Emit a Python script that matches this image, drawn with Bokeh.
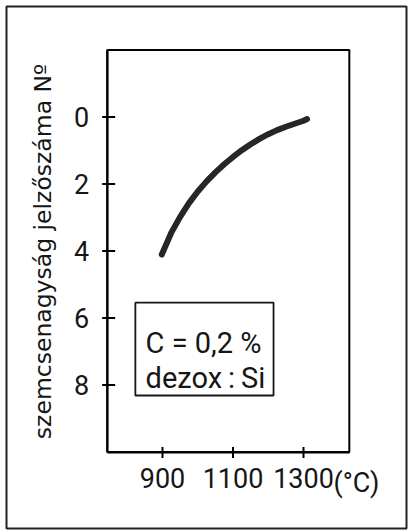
from bokeh.plotting import figure
from bokeh.models import Range1d, FixedTicker, Label, BoxAnnotation
from bokeh.embed import file_html
from bokeh.resources import INLINE

# grain size index versus heating temperature
temp_c = [898, 925, 950, 975, 1000, 1025, 1050, 1075, 1100, 1125, 1150, 1175, 1200, 1225, 1250, 1275, 1300, 1310]
grain_no = [4.10, 3.45, 2.98, 2.57, 2.22, 1.92, 1.65, 1.41, 1.19, 0.99, 0.81, 0.65, 0.51, 0.39, 0.29, 0.20, 0.11, 0.06]

x_ticks = [900, 1100, 1300]
y_ticks = [0, 2, 4, 6, 8]
y_title = "szemcsenagyság jelzőszáma Nº"
unit_text = "(°C)"
note_lines = ["C = 0,2 %", "dezox\u2009:\u2009Si"]

# axis box limits
X_MIN, X_MAX = 743, 1430
Y_MIN, Y_MAX = -2, 10

# visible ranges of the whole sheet
SHEET_X = (457.4, 1592.2)
SHEET_Y = (12.28, -3.30)
FRAME_W, FRAME_H = 400, 522
PX_X = FRAME_W / (SHEET_X[1] - SHEET_X[0])   # pixels per degree
PX_Y = FRAME_H / (SHEET_Y[0] - SHEET_Y[1])   # pixels per index unit

INK = "#161616"
FONT = "Roboto"

# the frame spans the whole sheet; the axes sit at fixed positions inside it
p = figure(width=409, height=531, output_backend="svg", toolbar_location=None,
           x_range=Range1d(*SHEET_X), y_range=Range1d(*SHEET_Y),
           min_border_left=6, min_border_right=3, min_border_top=6, min_border_bottom=3)
p.grid.visible = False
p.outline_line_color = "#222222"
p.outline_line_width = 2
p.background_fill_color = "white"
p.border_fill_color = "white"

p.axis.axis_line_color = "black"
p.axis.axis_line_width = 2
p.axis.major_tick_line_color = None
p.axis.minor_tick_line_color = None
p.axis.major_label_text_font = FONT
p.axis.major_label_text_font_size = "27px"
p.axis.major_label_text_color = INK

p.xaxis.fixed_location = Y_MAX
p.xaxis.bounds = (X_MIN, X_MAX)
p.xaxis.ticker = FixedTicker(ticks=x_ticks)
p.xaxis.major_tick_in = 5
p.xaxis.major_tick_out = 6
p.xaxis.major_label_standoff = 10

p.yaxis.fixed_location = X_MIN
p.yaxis.bounds = (Y_MIN, Y_MAX)
p.yaxis.ticker = FixedTicker(ticks=y_ticks)
p.yaxis.major_tick_in = 8
p.yaxis.major_tick_out = 5
p.yaxis.major_label_standoff = 13
p.yaxis.axis_label = y_title
p.yaxis.axis_label_text_font = "DejaVu Sans"
p.yaxis.axis_label_text_font_size = "23.5px"
p.yaxis.axis_label_text_font_style = "normal"
p.yaxis.axis_label_text_color = INK
p.yaxis.axis_label_standoff = 14

# tick marks crossing the axis lines
p.segment(x0=x_ticks, x1=x_ticks,
          y0=[Y_MAX - 5 / PX_Y] * len(x_ticks), y1=[Y_MAX + 6 / PX_Y] * len(x_ticks),
          line_color="black", line_width=2)
p.segment(x0=[X_MIN - 5 / PX_X] * len(y_ticks), x1=[X_MIN + 8 / PX_X] * len(y_ticks),
          y0=y_ticks, y1=y_ticks, line_color="black", line_width=2)

# top and right sides of the axis box
p.add_layout(BoxAnnotation(left=X_MIN, right=X_MAX, top=Y_MIN, bottom=Y_MAX,
                           fill_alpha=0, line_color="black", line_alpha=1, line_width=2))

p.line(temp_c, grain_no, line_width=6, line_color="#262626", line_cap="round", line_join="round")

# unit placed after the last tick label
p.add_layout(Label(x=1385, y=10.43, text=unit_text, text_font=FONT, text_font_size="27px",
                   text_color=INK, text_baseline="top"))

# boxed note
p.add_layout(BoxAnnotation(left=823, right=1215, top=5.54, bottom=8.31,
                           fill_alpha=0, line_color=INK, line_alpha=1, line_width=1.8))
p.add_layout(Label(x=852, y=6.73, text=note_lines[0], text_font=FONT, text_font_size="29px",
                   text_color=INK, text_baseline="alphabetic"))
p.add_layout(Label(x=852, y=7.78, text=note_lines[1], text_font=FONT, text_font_size="29px",
                   text_color=INK, text_baseline="alphabetic"))

open("out.html", "w").write(file_html(p, INLINE))
